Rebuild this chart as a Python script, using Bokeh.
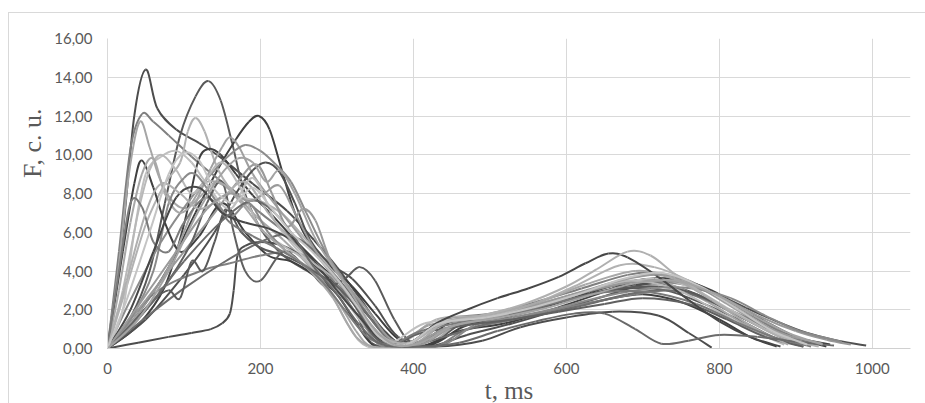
from bokeh.plotting import figure
from bokeh.models import Range1d, Title, FixedTicker
from bokeh.embed import file_html
from bokeh.resources import INLINE

# ---------------- data (t in ms, F in c. u.) ----------------
T01 = [0, 20, 35, 50, 65, 90, 120, 150, 190, 235, 270, 300, 330, 360, 390, 430, 480, 530, 590, 640, 690, 730, 770, 810, 850, 890, 920]
F01 = [0, 6.0, 12.0, 14.4, 12.4, 11.3, 10.6, 9.8, 8.5, 7.1, 5.6, 4.2, 2.6, 1.0, 0.2, 1.2, 1.5, 1.8, 2.4, 2.9, 3.3, 3.3, 2.8, 2.0, 1.2, 0.5, 0.15]
T02 = [0, 30, 55, 75, 95, 115, 132, 148, 163, 178, 200, 230, 265, 300, 325, 345, 380, 420, 460, 510, 560, 620, 680, 730, 780, 830, 870, 905]
F02 = [0, 1.6, 4.0, 7.5, 11.0, 13.0, 13.8, 12.8, 10.6, 8.2, 6.2, 4.8, 3.9, 3.0, 1.8, 0.3, 0.05, 0.1, 1.2, 1.5, 2.0, 2.7, 3.1, 3.0, 2.3, 1.4, 0.6, 0.15]
T03 = [0, 40, 80, 115, 145, 168, 185, 198, 212, 228, 245, 265, 290, 320, 350, 380, 410, 450, 510, 570, 630, 690, 740, 790, 840, 890, 945]
F03 = [0, 1.8, 4.2, 7.0, 9.3, 10.8, 11.7, 12.0, 11.3, 9.2, 7.0, 5.4, 4.3, 3.2, 1.8, 0.5, 0.2, 1.4, 1.7, 2.2, 2.9, 3.5, 3.6, 3.0, 1.8, 0.7, 0.2]
T04 = [0, 15, 30, 45, 60, 80, 110, 140, 170, 200, 235, 270, 305, 335, 365, 400, 440, 500, 560, 620, 680, 720, 760, 810, 860, 905]
F04 = [0, 5.0, 10.3, 12.1, 11.7, 11.0, 9.9, 8.9, 8.0, 7.0, 5.9, 4.6, 3.0, 1.2, 0.2, 0.4, 1.5, 1.8, 2.4, 3.1, 3.8, 3.9, 3.5, 2.5, 1.3, 0.4]
T05 = [0, 14, 28, 42, 55, 68, 85, 105, 130, 160, 195, 230, 265, 300, 325, 345, 380, 420, 460, 510, 570, 630, 685, 735, 785, 835, 880]
F05 = [0, 4.0, 9.0, 11.7, 10.4, 8.8, 7.6, 7.3, 8.6, 8.2, 6.8, 5.6, 4.2, 2.5, 0.9, 0.1, 0.05, 0.2, 1.3, 1.6, 2.2, 3.0, 3.5, 3.3, 2.4, 1.2, 0.4]
T06 = [0, 25, 50, 75, 95, 105, 115, 127, 145, 170, 200, 230, 260, 290, 320, 350, 385, 430, 490, 550, 610, 670, 715, 760, 810, 860, 905]
F06 = [0, 3.2, 6.4, 8.5, 9.6, 11.2, 11.9, 11.2, 9.2, 7.9, 7.6, 6.9, 5.6, 4.2, 2.6, 0.8, 0.3, 1.5, 1.7, 2.2, 3.2, 4.3, 4.2, 3.5, 2.3, 1.1, 0.3]
T07 = [0, 40, 75, 100, 118, 132, 148, 168, 190, 215, 245, 275, 305, 335, 365, 410, 460, 520, 580, 640, 690, 730, 770, 810, 860, 905, 940]
F07 = [0, 1.2, 3.2, 6.4, 9.6, 10.3, 10.0, 9.0, 7.9, 6.9, 5.6, 4.4, 3.3, 1.6, 0.3, 0.1, 0.9, 1.3, 2.0, 2.8, 3.5, 3.6, 3.3, 2.5, 1.4, 0.5, 0.1]
T08 = [0, 40, 80, 110, 135, 150, 160, 172, 190, 212, 238, 262, 290, 320, 345, 375, 420, 480, 540, 600, 660, 715, 765, 815, 865, 910]
F08 = [0, 1.8, 4.2, 7.0, 9.3, 10.4, 10.9, 10.4, 9.0, 7.8, 6.5, 5.3, 4.0, 2.5, 1.0, 0.1, 1.2, 1.5, 1.9, 2.6, 3.4, 3.8, 3.3, 2.2, 1.0, 0.2]
T09 = [0, 50, 100, 140, 168, 190, 207, 225, 245, 265, 290, 320, 350, 380, 420, 470, 530, 590, 650, 700, 745, 790, 835, 875, 915, 955, 992]
F09 = [0, 1.5, 3.8, 6.0, 8.0, 9.2, 9.6, 9.1, 7.5, 5.6, 4.4, 3.6, 2.2, 0.6, 0.1, 0.7, 1.3, 2.0, 2.7, 3.3, 3.4, 2.9, 2.1, 1.4, 0.8, 0.4, 0.15]
T10 = [0, 30, 70, 110, 140, 160, 180, 200, 220, 240, 260, 285, 310, 340, 370, 405, 445, 505, 565, 625, 685, 735, 780, 825, 865, 900]
F10 = [0, 2.5, 5.5, 7.8, 9.2, 10.0, 10.5, 10.2, 9.5, 8.6, 7.0, 5.0, 3.5, 1.8, 0.4, 0.3, 1.4, 1.7, 2.2, 2.9, 3.4, 3.4, 3.0, 2.0, 0.9, 0.2]
T11 = [0, 20, 35, 45, 60, 75, 95, 120, 150, 180, 210, 240, 270, 300, 325, 350, 390, 430, 470, 530, 590, 650, 700, 750, 800, 840, 875]
F11 = [0, 5.0, 8.5, 9.7, 8.3, 6.5, 5.0, 5.8, 7.5, 6.0, 4.8, 4.5, 3.8, 2.8, 1.3, 0.1, 0.05, 0.3, 1.2, 1.5, 2.0, 2.5, 2.8, 2.4, 1.5, 0.6, 0.1]
T12 = [0, 40, 80, 110, 135, 150, 160, 165, 170, 180, 200, 230, 260, 290, 320, 350, 380, 430, 490, 540, 600, 660, 720, 760, 790]
F12 = [0, 0.3, 0.6, 0.8, 1.0, 1.3, 1.8, 3.0, 4.8, 5.3, 5.5, 5.3, 4.6, 3.6, 2.6, 1.3, 0.3, 0.1, 0.4, 1.1, 1.6, 1.9, 1.7, 0.8, 0.05]
T13 = [0, 60, 122, 160, 200, 240, 270, 300, 330, 355, 390, 430, 470, 520, 575, 635, 690, 740, 790, 840, 885, 930]
F13 = [0, 2.8, 4.0, 4.4, 4.8, 5.0, 4.5, 3.3, 1.9, 0.4, 0.02, 0.1, 1.0, 1.4, 1.9, 2.4, 2.8, 3.0, 2.4, 1.5, 0.6, 0.2]
T14 = [0, 50, 100, 150, 195, 231, 260, 285, 310, 335, 360, 390, 440, 500, 560, 620, 680, 730, 780, 830, 875, 910]
F14 = [0, 1.6, 3.1, 4.4, 5.4, 5.9, 5.4, 4.3, 3.2, 2.0, 0.8, 0.1, 0.6, 1.3, 1.7, 2.2, 2.8, 3.0, 2.6, 1.6, 0.7, 0.1]
T15 = [0, 30, 60, 80, 95, 110, 125, 140, 155, 175, 200, 230, 260, 285, 310, 330, 350, 375, 400, 440, 490, 550, 610, 670, 720, 770, 820, 870, 910]
F15 = [0, 1.2, 2.5, 3.0, 2.6, 4.5, 4.0, 5.5, 7.2, 6.0, 5.2, 4.8, 4.2, 3.2, 3.6, 4.2, 3.5, 1.5, 0.3, 1.0, 1.5, 2.0, 2.6, 3.1, 3.2, 2.8, 1.8, 0.8, 0.2]
T16 = [0, 20, 35, 50, 70, 90, 110, 130, 160, 190, 220, 250, 280, 310, 340, 370, 415, 480, 540, 600, 660, 715, 760, 810, 860, 910]
F16 = [0, 2.0, 6.0, 9.0, 9.9, 10.2, 9.6, 8.5, 7.2, 8.8, 6.5, 5.0, 3.8, 2.5, 1.0, 0.3, 1.3, 1.6, 2.1, 2.7, 3.3, 3.6, 3.2, 2.1, 1.0, 0.2]
T17 = [0, 50, 100, 140, 170, 195, 215, 235, 255, 272, 292, 315, 340, 370, 410, 455, 515, 575, 640, 700, 750, 800, 850, 900, 940, 972]
F17 = [0, 2.5, 5.0, 7.0, 8.6, 9.5, 8.0, 6.3, 7.2, 6.6, 4.5, 3.2, 2.0, 0.5, 0.2, 1.2, 1.7, 2.4, 3.1, 3.5, 3.4, 2.7, 1.7, 0.9, 0.45, 0.2]
T18 = [0, 20, 40, 55, 70, 90, 110, 130, 150, 175, 200, 230, 260, 290, 315, 340, 390, 435, 495, 555, 620, 680, 740, 790, 840, 885]
F18 = [0, 3.0, 7.0, 9.2, 10.0, 9.2, 8.0, 8.8, 9.6, 8.2, 6.2, 5.3, 4.5, 3.0, 1.2, 0.1, 0.1, 1.3, 1.6, 2.2, 2.9, 3.5, 3.1, 2.1, 1.0, 0.2]
T19 = [0, 30, 60, 80, 100, 115, 135, 160, 185, 210, 240, 270, 300, 330, 355, 390, 440, 480, 530, 590, 650, 710, 765, 815, 860, 905, 960]
F19 = [0, 1.5, 4.0, 7.5, 8.8, 9.0, 8.0, 6.8, 7.5, 6.0, 4.8, 4.0, 3.0, 1.6, 0.2, 0.02, 0.2, 1.2, 1.6, 2.1, 2.7, 3.1, 3.1, 2.6, 1.7, 0.9, 0.35]
T20 = [0, 40, 80, 110, 130, 150, 165, 180, 200, 230, 260, 290, 320, 345, 370, 410, 470, 530, 590, 650, 700, 760, 810, 860, 910]
F20 = [0, 1.5, 3.5, 5.5, 7.5, 8.6, 6.0, 4.0, 3.5, 5.0, 4.2, 3.5, 2.4, 0.8, 0.2, 0.8, 1.2, 1.5, 1.9, 2.3, 2.6, 2.3, 1.5, 0.6, 0.1]
T21 = [0, 15, 30, 45, 60, 75, 95, 120, 145, 175, 205, 235, 265, 295, 325, 355, 400, 445, 505, 565, 625, 690, 740, 790, 840, 890]
F21 = [0, 3.0, 6.5, 9.0, 9.8, 8.0, 7.0, 7.8, 8.6, 7.5, 6.0, 5.0, 4.0, 2.6, 0.6, 0.05, 0.2, 1.4, 1.8, 2.4, 3.3, 4.0, 3.6, 2.5, 1.2, 0.2]
T22 = [0, 15, 30, 45, 60, 80, 100, 130, 160, 190, 220, 250, 280, 310, 340, 370, 410, 470, 530, 590, 650, 710, 770, 820, 870, 920]
F22 = [0, 4.0, 7.5, 7.3, 5.5, 5.0, 6.5, 7.8, 6.5, 5.8, 5.2, 4.5, 3.5, 2.0, 0.6, 0.2, 0.9, 1.4, 1.8, 2.4, 2.9, 2.9, 2.3, 1.4, 0.6, 0.1]
T23 = [0, 30, 60, 90, 120, 150, 180, 210, 240, 270, 300, 330, 360, 395, 430, 470, 510, 550, 590, 625, 655, 680, 720, 760, 800, 840, 880]
F23 = [0, 2.0, 5.0, 7.8, 8.3, 7.0, 6.5, 6.2, 5.6, 4.5, 3.0, 1.6, 0.4, 0.3, 1.3, 2.0, 2.6, 3.1, 3.7, 4.4, 4.9, 4.7, 3.7, 2.5, 1.4, 0.6, 0.1]
T24 = [0, 25, 50, 70, 95, 120, 150, 180, 210, 240, 270, 300, 330, 360, 395, 440, 490, 545, 600, 640, 680, 710, 740, 780, 830, 880, 930]
F24 = [0, 3.5, 7.0, 8.5, 8.0, 7.2, 7.8, 8.6, 7.0, 5.6, 4.4, 3.5, 2.0, 0.6, 0.3, 1.3, 1.7, 2.3, 3.2, 4.1, 5.0, 4.8, 3.9, 2.8, 1.6, 0.6, 0.1]
T25 = [0, 50, 100, 150, 185, 210, 240, 270, 300, 330, 360, 410, 460, 510, 560, 610, 650, 690, 724, 760, 800, 850, 900, 950]
F25 = [0, 2.0, 4.5, 6.6, 7.6, 7.3, 6.0, 4.2, 2.8, 1.2, 0.2, 0.1, 0.3, 0.9, 1.4, 1.8, 1.8, 1.0, 0.25, 0.4, 0.7, 0.6, 0.35, 0.15]
T26 = [0, 40, 90, 130, 160, 185, 205, 225, 245, 265, 290, 315, 340, 365, 400, 445, 505, 565, 625, 680, 730, 780, 830, 880, 935]
F26 = [0, 2.2, 5.0, 7.2, 8.0, 7.6, 8.0, 8.4, 7.0, 5.5, 4.0, 2.8, 1.4, 0.3, 0.2, 1.1, 1.6, 2.3, 3.0, 3.6, 3.8, 3.1, 1.9, 0.8, 0.25]
T27 = [0, 25, 55, 80, 100, 120, 140, 165, 190, 215, 240, 270, 300, 330, 355, 390, 435, 495, 555, 615, 675, 725, 775, 825, 870, 915]
F27 = [0, 2.5, 6.0, 9.0, 10.1, 9.7, 8.2, 7.5, 8.3, 7.2, 6.0, 4.9, 3.6, 2.0, 0.6, 0.2, 1.3, 1.6, 2.1, 2.8, 3.6, 3.9, 3.2, 2.0, 0.9, 0.2]
T28 = [0, 40, 80, 115, 145, 170, 190, 208, 225, 245, 270, 295, 320, 345, 375, 410, 455, 515, 575, 635, 695, 745, 795, 845, 890, 935]
F28 = [0, 1.5, 4.0, 6.8, 8.8, 9.8, 9.6, 8.6, 9.2, 8.0, 5.8, 4.2, 2.8, 1.2, 0.2, 0.3, 1.2, 1.6, 2.1, 2.8, 3.4, 3.5, 2.8, 1.7, 0.8, 0.2]

X_TICKS = [0, 200, 400, 600, 800, 1000]
X_TICK_LABELS = ["0", "200", "400", "600", "800", "1000"]
Y_TICKS = [0, 2, 4, 6, 8, 10, 12, 14, 16]
Y_TICK_LABELS = ["0,00", "2,00", "4,00", "6,00", "8,00", "10,00", "12,00", "14,00", "16,00"]
X_TITLE = "t, ms"
Y_TITLE = "F, c. u."

SERIES = [
    (T01, F01), (T02, F02), (T03, F03), (T04, F04), (T05, F05), (T06, F06),
    (T07, F07), (T08, F08), (T09, F09), (T10, F10), (T11, F11), (T12, F12),
    (T13, F13), (T14, F14), (T15, F15), (T16, F16), (T17, F17), (T18, F18),
    (T19, F19), (T20, F20), (T21, F21), (T22, F22), (T23, F23), (T24, F24),
    (T25, F25), (T26, F26), (T27, F27), (T28, F28),
]
COLORS = [
    "#4d4d4d", "#595959", "#3f3f3f", "#7f7f7f", "#a6a6a6", "#b2b2b2",
    "#404040", "#a0a0a0", "#505050", "#8c8c8c", "#404040", "#4d4d4d",
    "#808080", "#6d6d6d", "#5a5a5a", "#bfbfbf", "#999999", "#b8b8b8",
    "#8a8a8a", "#606060", "#a8a8a8", "#7a7a7a", "#474747", "#b0b0b0",
    "#6a6a6a", "#9a9a9a", "#c4c4c4", "#a3a3a3",
]

# ---------------- figure ----------------
p = figure(
    frame_width=803, frame_height=310,
    x_range=Range1d(0, 1050), y_range=Range1d(0, 16),
    output_backend="svg", toolbar_location=None,
    min_border_left=98, min_border_right=16, min_border_top=25, min_border_bottom=55,
)
p.styles = {"margin-left": "8px", "margin-top": "12px",
            "border-left": "1px solid #d9d9d9", "border-top": "1px solid #d9d9d9"}
p.outline_line_color = None
p.background_fill_color = "white"
p.border_fill_color = "white"


def smooth_segments(t, f):
    # Excel-style "smoothed line": cubic Bezier through every data point
    n = len(t)
    seg = {k: [] for k in ("x0", "y0", "x1", "y1", "cx0", "cy0", "cx1", "cy1")}
    for i in range(n - 1):
        tp, fp = (t[i - 1], f[i - 1]) if i > 0 else (t[i], f[i])
        tn, fn = (t[i + 2], f[i + 2]) if i + 2 < n else (t[i + 1], f[i + 1])
        seg["x0"].append(t[i]); seg["y0"].append(f[i])
        seg["x1"].append(t[i + 1]); seg["y1"].append(f[i + 1])
        seg["cx0"].append(t[i] + (t[i + 1] - tp) / 6.0)
        seg["cy0"].append(f[i] + (f[i + 1] - fp) / 6.0)
        seg["cx1"].append(t[i + 1] - (tn - t[i]) / 6.0)
        seg["cy1"].append(f[i + 1] - (fn - f[i]) / 6.0)
    return seg


for (t, f), c in zip(SERIES, COLORS):
    s = smooth_segments(t, f)
    p.bezier(x0=s["x0"], y0=s["y0"], x1=s["x1"], y1=s["y1"],
             cx0=s["cx0"], cy0=s["cy0"], cx1=s["cx1"], cy1=s["cy1"],
             line_color=c, line_width=2)

p.xaxis.ticker = FixedTicker(ticks=X_TICKS)
p.yaxis.ticker = FixedTicker(ticks=Y_TICKS)
p.xaxis.major_label_overrides = dict(zip(X_TICKS, X_TICK_LABELS))
p.yaxis.major_label_overrides = dict(zip(Y_TICKS, Y_TICK_LABELS))

for ax in (p.xaxis[0], p.yaxis[0]):
    ax.major_tick_out = 0
    ax.major_tick_in = 0
    ax.minor_tick_out = 0
    ax.minor_tick_in = 0
    ax.major_label_text_font = "Lato"
    ax.major_label_text_font_size = "15px"
    ax.major_label_text_color = "#595959"

p.xaxis.axis_line_color = "#d0d0d0"
p.yaxis.axis_line_color = "#d9d9d9"
p.yaxis.major_label_standoff = 15
p.xaxis.major_label_standoff = 14

p.xaxis.axis_label = X_TITLE
p.xaxis.axis_label_text_font = "Liberation Serif"
p.xaxis.axis_label_text_font_style = "normal"
p.xaxis.axis_label_text_font_size = "25px"
p.xaxis.axis_label_text_color = "#595959"
p.xaxis.axis_label_standoff = 0

p.xgrid.ticker = FixedTicker(ticks=X_TICKS)
p.ygrid.ticker = FixedTicker(ticks=Y_TICKS)
p.xgrid.grid_line_color = "#d9d9d9"
p.ygrid.grid_line_color = "#d9d9d9"

ytitle = Title(text=Y_TITLE, align="right", offset=70, standoff=10,
               text_font="Liberation Serif", text_font_size="26px",
               text_font_style="normal", text_color="#595959")
p.add_layout(ytitle, "left")

open("out.html", "w").write(file_html(p, INLINE))
